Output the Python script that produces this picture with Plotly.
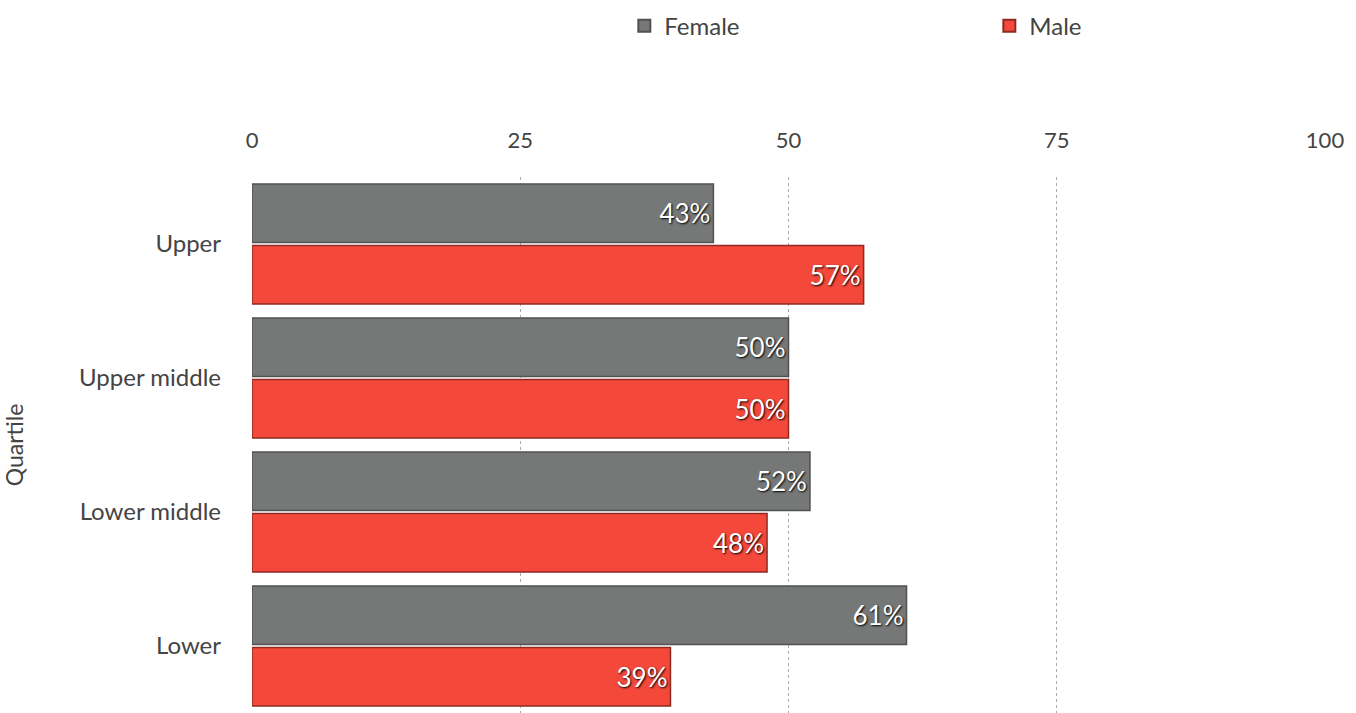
import plotly.graph_objects as go

quartiles = ["Upper", "Upper middle", "Lower middle", "Lower"]
female = [43, 50, 52, 61]
male = [57, 50, 48, 39]
x_ticks = [0, 25, 50, 75, 100]

font_family = "Lato, 'Open Sans', sans-serif"
text_color = "#444444"

fig = go.Figure()
fig.add_trace(go.Bar(
    name="Female", y=quartiles, x=female, orientation="h",
    marker=dict(color="#767878", line=dict(color="#4f5152", width=1.5)),
    text=[f"{v}%" for v in female], textposition="inside", insidetextanchor="end",
    textfont=dict(color="white", size=26, family=font_family, shadow="1px 1px 2px #000"),
))
fig.add_trace(go.Bar(
    name="Male", y=quartiles, x=male, orientation="h",
    marker=dict(color="#f4483b", line=dict(color="#8e2a22", width=1.5)),
    text=[f"{v}%" for v in male], textposition="inside", insidetextanchor="end",
    textfont=dict(color="white", size=26, family=font_family, shadow="1px 1px 2px #000"),
))

fig.update_layout(
    width=1356, height=713,
    paper_bgcolor="white", plot_bgcolor="white",
    font=dict(family=font_family, color=text_color, size=20),
    barmode="group", bargap=0.08, bargroupgap=0.05,
    margin=dict(l=252, r=31, t=177, b=0),
    showlegend=True,
    legend=dict(orientation="h", x=0.347, xanchor="left", y=0.995, yref="container",
                yanchor="top", font=dict(size=24, color=text_color),
                entrywidth=320, entrywidthmode="pixels", itemsizing="constant"),
    xaxis=dict(side="top", range=[0, 100], tickvals=x_ticks, ticktext=[str(t) for t in x_ticks],
               showgrid=True, gridcolor="#aaaaaa", griddash="dot", gridwidth=1,
               zeroline=False, showline=False, tickfont=dict(size=22, color=text_color),
               ticks="", ticklabelstandoff=24, automargin=False),
    yaxis=dict(categoryorder="array", categoryarray=quartiles, autorange="reversed",
               title=dict(text="Quartile", font=dict(size=23, color=text_color), standoff=56),
               tickfont=dict(size=24, color=text_color), showline=False, ticks="",
               ticklabelstandoff=30, automargin=False),
)

fig.write_html("out.html", config={"displayModeBar": False},
               post_script="document.body.style.margin='0';document.body.style.overflow='hidden';")
